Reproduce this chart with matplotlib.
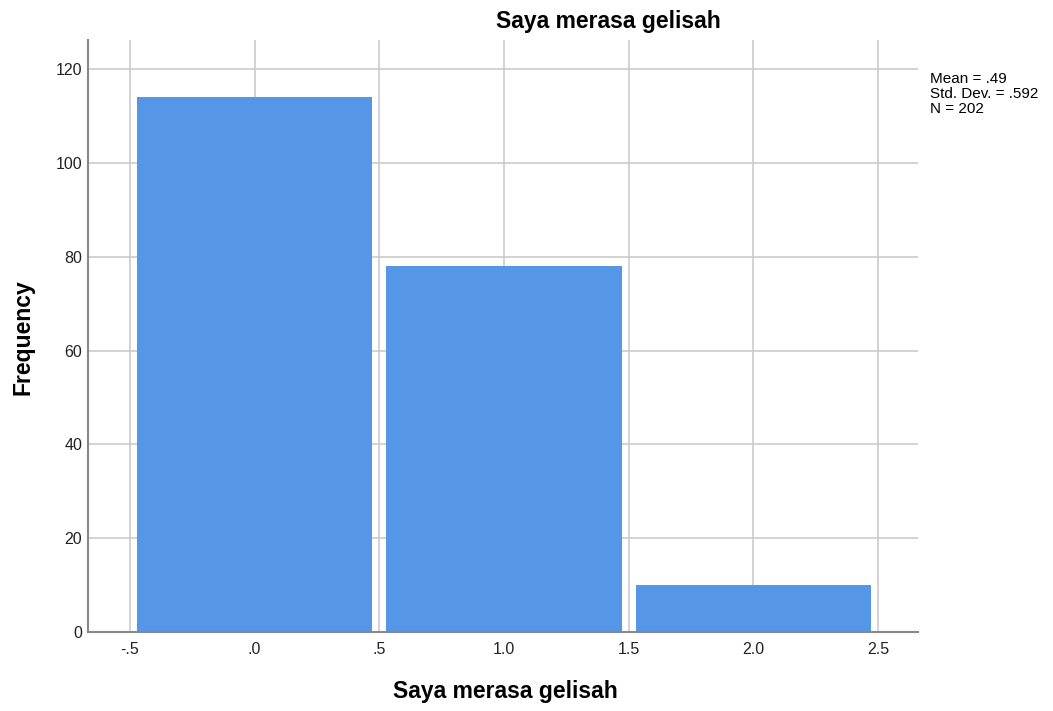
import matplotlib
matplotlib.use("Agg")
import matplotlib.pyplot as plt

# Data
bin_centers = [0.0, 1.0, 2.0]
frequencies = [114, 78, 10]
x_ticks = [-0.5, 0.0, 0.5, 1.0, 1.5, 2.0, 2.5]
x_tick_labels = ["-.5", ".0", ".5", "1.0", "1.5", "2.0", "2.5"]
y_ticks = [0, 20, 40, 60, 80, 100, 120]
title = "Saya merasa gelisah"
xlabel = "Saya merasa gelisah"
ylabel = "Frequency"
stats_text = "Mean = .49\nStd. Dev. = .592\nN = 202"

plt.rcParams['font.family'] = ['Liberation Sans', 'DejaVu Sans']

W, H = 1053, 711
fig = plt.figure(figsize=(W / 100, H / 100), dpi=100)
ax = fig.add_axes([88 / W, 1 - 632 / H, (918 - 88) / W, (632 - 40) / H])

ax.set_axisbelow(True)
ax.grid(True, color="#cccccc", linewidth=1.2)
ax.bar(bin_centers, frequencies, width=0.945, color="#5596E6", edgecolor="none", zorder=3)

ax.set_xlim(-0.668, 2.66)
ax.set_ylim(0, 126.2)
ax.set_xticks(x_ticks)
ax.set_xticklabels(x_tick_labels)
ax.set_yticks(y_ticks)
ax.tick_params(length=0, labelsize=11.5, colors="#222222")
ax.tick_params(axis='x', pad=7.5)
ax.tick_params(axis='y', pad=4.3)

for s in ["top", "right"]:
    ax.spines[s].set_visible(False)
for s in ["left", "bottom"]:
    ax.spines[s].set_color("#888888")
    ax.spines[s].set_linewidth(1.5)
    ax.spines[s].set_zorder(4)

fig.text(505 / W, 1 - 698 / H, xlabel, ha="center", va="baseline", fontsize=16.5, fontweight="bold")
fig.text(23 / W, 1 - 337 / H, ylabel, ha="center", va="center", rotation=90, fontsize=16.5, fontweight="bold")
fig.text(608 / W, 1 - 28 / H, title, ha="center", va="baseline", fontsize=16.5, fontweight="bold")
fig.text(930 / W, 1 - 72 / H, stats_text, ha="left", va="top", fontsize=11, linespacing=1.07)

fig.savefig("out.png", dpi=100)
